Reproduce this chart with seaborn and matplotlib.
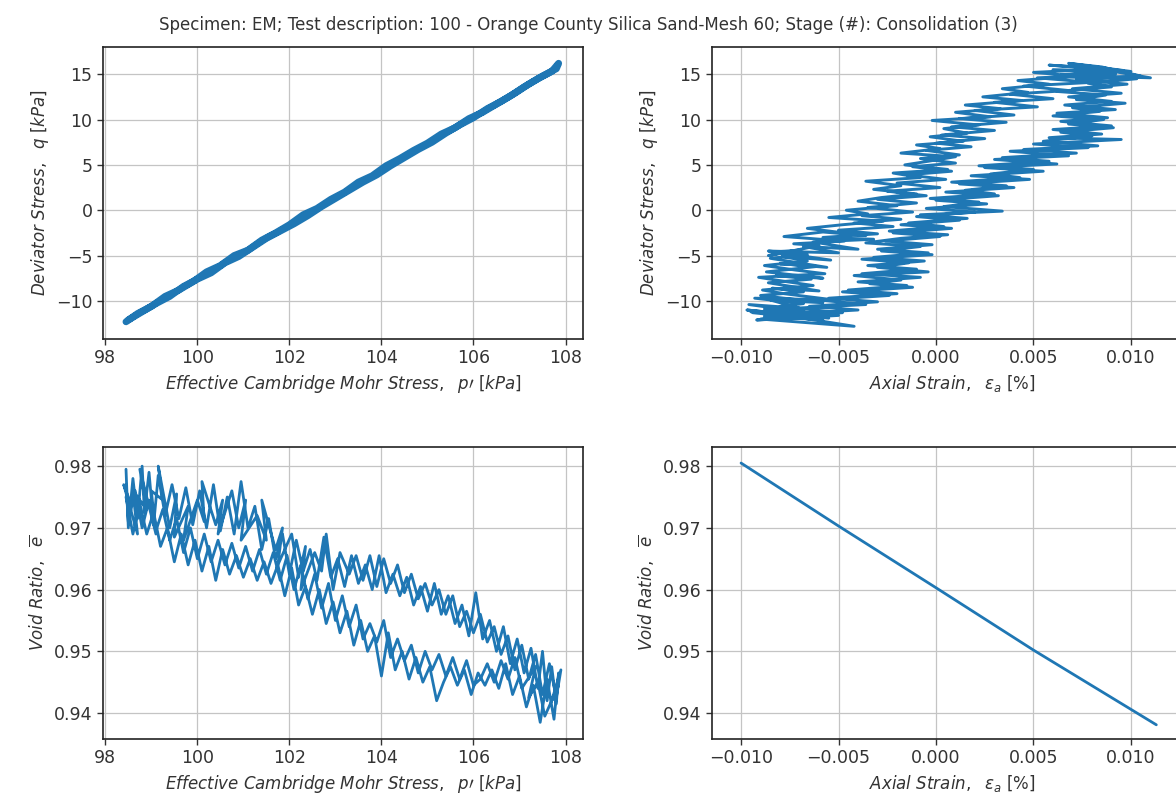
import matplotlib
matplotlib.use("Agg")
import matplotlib.pyplot as plt
import seaborn as sns

# ---- data ----
title = ("Specimen: EM; Test description: 100 - Orange County Silica Sand-Mesh 60; "
         "Stage (#): Consolidation (3)")

# top-left: effective Cambridge stress p' [kPa] vs deviator stress q [kPa]
p_tl = [98.45, 98.7, 99.0, 99.3, 99.6, 99.9, 100.2, 100.5, 100.8, 101.1, 101.4, 101.7,
        102.0, 102.3, 102.6, 102.9, 103.2, 103.5, 103.8, 104.1, 104.4, 104.7, 105.0,
        105.3, 105.6, 105.9, 106.2, 106.5, 106.8, 107.1, 107.4, 107.7, 107.85,
        107.8, 107.5, 107.2, 106.9, 106.6, 106.3, 106.0, 105.7, 105.4, 105.1, 104.8,
        104.5, 104.2, 103.9, 103.6, 103.3, 103.0, 102.7, 102.4, 102.1, 101.8, 101.5,
        101.2, 100.9, 100.6, 100.3, 100.0, 99.7, 99.4, 99.1, 98.8, 98.5]
q_tl = [-12.3, -11.4, -10.6, -9.5, -8.8, -7.9, -6.8, -6.1, -5.0, -4.4, -3.3, -2.5,
        -1.6, -0.5, 0.2, 1.2, 2.0, 3.1, 3.8, 4.9, 5.7, 6.6, 7.4,
        8.4, 9.1, 10.1, 10.8, 11.7, 12.6, 13.6, 14.5, 15.3, 16.2,
        15.6, 14.8, 13.9, 12.9, 12.0, 11.2, 10.2, 9.4, 8.5, 7.5, 6.7,
        5.8, 4.9, 3.9, 3.1, 2.2, 1.3, 0.4, -0.6, -1.5, -2.3, -3.1,
        -4.1, -5.1, -5.8, -6.9, -7.6, -8.4, -9.5, -10.3, -11.2, -12.1]

# top-right: (axial strain [%], deviator stress q [kPa]) in recording order
tr_points = [
    (-0.0095, -11.2), (-0.0060, -11.8), (-0.0092, -12.1), (-0.0050, -11.6), (-0.0088, -10.9),
    (-0.0062, -11.4), (-0.0096, -10.4), (-0.0070, -10.8), (-0.0085, -9.9), (-0.0058, -10.2),
    (-0.0090, -9.4), (-0.0068, -9.0), (-0.0084, -8.6), (-0.0060, -8.9), (-0.0086, -8.0),
    (-0.0064, -7.6), (-0.0082, -7.2), (-0.0058, -7.5), (-0.0087, -6.8), (-0.0061, -6.2),
    (-0.0080, -5.9), (-0.0056, -6.3), (-0.0085, -5.3), (-0.0066, -4.9), (-0.0086, -4.5),
    (-0.0050, -4.7), (-0.0068, -4.0), (-0.0040, -4.3), (-0.0063, -3.5), (-0.0032, -3.2),
    (-0.0058, -3.0), (-0.0030, -2.6), (-0.0050, -2.2), (-0.0022, -1.8), (-0.0042, -1.4),
    (-0.0018, -1.0), (-0.0038, -0.6), (-0.0012, -0.2), (-0.0035, 0.3), (-0.0010, 0.8),
    (-0.0030, 1.2), (-0.0005, 1.6), (-0.0025, 2.1), (0.0002, 2.5), (-0.0020, 3.0),
    (0.0005, 3.4), (-0.0015, 3.9), (0.0008, 4.3), (-0.0012, 4.8), (0.0010, 5.2),
    (-0.0008, 5.7), (0.0012, 6.1), (-0.0005, 6.6), (0.0018, 7.0), (0.0000, 7.4),
    (0.0025, 7.9), (0.0003, 8.3), (0.0030, 8.8), (0.0008, 9.2), (0.0036, 9.7),
    (0.0012, 10.1), (0.0040, 10.5), (0.0020, 11.0), (0.0052, 11.4), (0.0030, 11.9),
    (0.0060, 12.3), (0.0038, 12.8), (0.0068, 13.2), (0.0045, 13.7), (0.0080, 14.1),
    (0.0052, 14.6), (0.0092, 15.0), (0.0060, 15.5), (0.0100, 15.3), (0.0068, 16.2),
    (0.0085, 15.8),
    (0.0105, 14.8), (0.0072, 14.4), (0.0098, 13.9), (0.0070, 13.4), (0.0095, 12.9),
    (0.0068, 12.5), (0.0090, 12.0), (0.0066, 11.6), (0.0092, 11.1), (0.0062, 10.7),
    (0.0088, 10.2), (0.0064, 9.8), (0.0090, 9.3), (0.0060, 8.9), (0.0085, 8.4),
    (0.0058, 8.0), (0.0095, 7.8), (0.0050, 7.3), (0.0078, 6.9), (0.0038, 6.5),
    (0.0068, 6.0), (0.0030, 5.6), (0.0062, 5.1), (0.0025, 4.7), (0.0055, 4.3),
    (0.0018, 3.8), (0.0048, 3.4), (0.0012, 2.9), (0.0040, 2.5), (0.0005, 2.0),
    (0.0032, 1.6), (0.0000, 1.1), (0.0026, 0.7), (-0.0005, 0.2), (0.0020, -0.2),
    (-0.0010, -0.7), (0.0012, -1.1), (-0.0018, -1.6), (0.0008, -2.0), (-0.0022, -2.5),
    (0.0002, -2.9), (-0.0026, -3.4), (-0.0002, -3.8), (-0.0030, -4.3), (-0.0004, -4.7),
    (-0.0032, -5.2), (-0.0006, -5.6), (-0.0035, -6.1), (-0.0010, -6.5), (-0.0038, -7.0),
    (-0.0008, -7.4), (-0.0040, -7.9), (-0.0015, -8.3), (-0.0045, -8.8), (-0.0020, -9.2),
    (-0.0055, -9.7), (-0.0030, -10.1), (-0.0065, -10.6), (-0.0040, -11.0), (-0.0080, -11.5),
    (-0.0042, -12.8), (-0.0090, -12.0),
    (-0.0075, -11.5), (-0.0097, -11.0), (-0.0055, -11.9), (-0.0080, -10.6), (-0.0068, -10.3),
    (-0.0093, -9.7), (-0.0052, -9.9), (-0.0078, -9.2), (-0.0089, -8.8), (-0.0063, -8.3),
    (-0.0076, -7.9), (-0.0091, -7.4), (-0.0057, -7.0), (-0.0072, -6.6), (-0.0088, -6.1),
    (-0.0066, -5.6), (-0.0079, -5.1), (-0.0054, -5.5), (-0.0083, -4.6), (-0.0070, -4.4),
    (-0.0086, -5.0), (-0.0060, -3.9), (-0.0073, -3.7), (-0.0047, -3.4), (-0.0078, -2.9),
    (-0.0058, -2.4), (-0.0036, -2.8), (-0.0066, -2.0), (-0.0048, -1.6), (-0.0027, -1.2),
    (-0.0055, -0.8), (-0.0035, -0.4), (-0.0046, 0.0), (-0.0020, 0.5), (-0.0040, 1.0),
    (-0.0028, 1.4), (-0.0010, 1.8), (-0.0032, 2.3), (-0.0018, 2.7), (-0.0036, 3.2),
    (-0.0008, 3.6), (-0.0022, 4.1), (0.0006, 4.5), (-0.0016, 5.0), (-0.0004, 5.4),
    (0.0010, 5.9), (-0.0018, 6.3), (0.0002, 6.8), (-0.0010, 7.2), (0.0014, 7.6),
    (-0.0003, 8.1), (0.0016, 8.5), (0.0004, 9.0), (0.0022, 9.4), (-0.0002, 9.9),
    (0.0028, 10.3), (0.0010, 10.8), (0.0033, 11.2), (0.0015, 11.6), (0.0044, 12.1),
    (0.0024, 12.5), (0.0047, 13.0), (0.0034, 13.4), (0.0058, 13.9), (0.0042, 14.3),
    (0.0072, 14.8), (0.0050, 15.2), (0.0088, 15.6), (0.0058, 16.0), (0.0096, 15.4),
    (0.0064, 14.9), (0.0110, 14.6), (0.0075, 15.9),
    (0.0092, 15.1), (0.0065, 14.7), (0.0103, 14.5), (0.0078, 14.0), (0.0090, 13.6),
    (0.0062, 13.1), (0.0087, 12.7), (0.0072, 12.2), (0.0097, 11.8), (0.0070, 11.3),
    (0.0084, 10.9), (0.0060, 10.4), (0.0086, 10.0), (0.0068, 9.5), (0.0091, 9.1),
    (0.0064, 8.6), (0.0080, 8.2), (0.0055, 7.6), (0.0083, 7.1), (0.0045, 6.7),
    (0.0072, 6.3), (0.0034, 5.8), (0.0058, 5.4), (0.0022, 4.9), (0.0050, 4.5),
    (0.0028, 4.0), (0.0043, 3.6), (0.0008, 3.1), (0.0036, 2.7), (0.0015, 2.2),
    (0.0030, 1.8), (-0.0003, 1.3), (0.0022, 0.9), (0.0004, 0.4), (0.0034, -0.1),
    (-0.0008, -0.5), (0.0016, -0.9), (-0.0014, -1.4), (0.0004, -1.8), (-0.0024, -2.3),
    (0.0006, -2.7), (-0.0018, -3.1), (-0.0036, -3.6), (-0.0008, -4.0), (-0.0028, -4.5),
    (-0.0002, -4.9), (-0.0038, -5.4), (-0.0014, -5.8), (-0.0030, -6.3), (-0.0004, -6.8),
    (-0.0042, -7.2), (-0.0018, -7.7), (-0.0034, -8.1), (-0.0012, -8.5), (-0.0048, -9.0),
    (-0.0024, -9.4), (-0.0060, -9.9), (-0.0036, -10.4), (-0.0072, -10.8), (-0.0048, -11.3),
    (-0.0088, -11.7), (-0.0058, -12.1), (-0.0094, -11.3),
]

# bottom-left: (effective Cambridge stress p' [kPa], void ratio) in recording order
bl_points = [
    (98.45, 0.9795), (98.5, 0.9700), (98.6, 0.9780), (98.7, 0.9715), (98.8, 0.9800),
    (98.85, 0.9725), (98.95, 0.9790), (99.05, 0.9705), (99.15, 0.9785), (99.3, 0.9720),
    (99.45, 0.9770), (99.6, 0.9715), (99.75, 0.9765), (99.9, 0.9705), (100.05, 0.9760),
    (100.2, 0.9700), (100.35, 0.9770), (100.5, 0.9695), (100.65, 0.9750), (100.8, 0.9690),
    (100.95, 0.9775), (101.1, 0.9700), (101.25, 0.9735), (101.4, 0.9665), (101.55, 0.9715),
    (101.7, 0.9650), (101.85, 0.9690), (102.0, 0.9625), (102.15, 0.9680), (102.3, 0.9630),
    (102.45, 0.9665), (102.6, 0.9615), (102.75, 0.9685), (102.9, 0.9620), (103.05, 0.9650),
    (103.2, 0.9605), (103.35, 0.9655), (103.5, 0.9610), (103.65, 0.9640), (103.8, 0.9600),
    (103.95, 0.9655), (104.1, 0.9595), (104.25, 0.9625), (104.4, 0.9590), (104.55, 0.9620),
    (104.7, 0.9575), (104.85, 0.9605), (105.0, 0.9565), (105.15, 0.9610), (105.3, 0.9560),
    (105.45, 0.9590), (105.6, 0.9545), (105.75, 0.9575), (105.9, 0.9525), (106.05, 0.9595),
    (106.2, 0.9520), (106.35, 0.9550), (106.5, 0.9500), (106.65, 0.9540), (106.8, 0.9480),
    (106.95, 0.9520), (107.1, 0.9465), (107.25, 0.9505), (107.4, 0.9440), (107.5, 0.9500),
    (107.6, 0.9420), (107.7, 0.9475), (107.8, 0.9415), (107.85, 0.9465),
    (107.75, 0.9390), (107.6, 0.9455), (107.45, 0.9385), (107.3, 0.9445), (107.15, 0.9410),
    (107.0, 0.9460), (106.85, 0.9430), (106.7, 0.9480), (106.55, 0.9440), (106.4, 0.9470),
    (106.25, 0.9445), (106.1, 0.9465), (105.95, 0.9430), (105.8, 0.9470), (105.65, 0.9445),
    (105.5, 0.9475), (105.35, 0.9450), (105.2, 0.9420), (105.05, 0.9475), (104.9, 0.9450),
    (104.75, 0.9490), (104.6, 0.9455), (104.45, 0.9500), (104.3, 0.9470), (104.15, 0.9530),
    (104.0, 0.9460), (103.85, 0.9525), (103.7, 0.9500), (103.55, 0.9550), (103.4, 0.9510),
    (103.25, 0.9565), (103.1, 0.9530), (102.95, 0.9580), (102.8, 0.9545), (102.65, 0.9600),
    (102.5, 0.9560), (102.35, 0.9605), (102.2, 0.9575), (102.05, 0.9635), (101.9, 0.9590),
    (101.75, 0.9640), (101.6, 0.9610), (101.45, 0.9645), (101.3, 0.9615), (101.15, 0.9650),
    (101.0, 0.9620), (100.85, 0.9655), (100.7, 0.9625), (100.55, 0.9665), (100.4, 0.9615),
    (100.25, 0.9670), (100.1, 0.9630), (99.95, 0.9680), (99.8, 0.9640), (99.65, 0.9690),
    (99.5, 0.9645), (99.35, 0.9700), (99.2, 0.9670), (99.05, 0.9725), (98.9, 0.9690),
    (98.75, 0.9740), (98.6, 0.9690), (98.45, 0.9750),
    (98.55, 0.9740), (98.4, 0.9770), (98.7, 0.9690), (98.6, 0.9760), (98.9, 0.9730),
    (98.75, 0.9795), (99.1, 0.9690), (99.0, 0.9760), (99.25, 0.9745), (99.15, 0.9800),
    (99.4, 0.9700), (99.55, 0.9755), (99.5, 0.9685), (99.8, 0.9735), (99.7, 0.9680),
    (100.0, 0.9745), (100.15, 0.9710), (100.1, 0.9775), (100.4, 0.9705), (100.55, 0.9745),
    (100.45, 0.9690), (100.75, 0.9760), (100.9, 0.9700), (101.05, 0.9745), (100.95, 0.9680),
    (101.3, 0.9720), (101.5, 0.9680), (101.4, 0.9745), (101.7, 0.9665), (101.85, 0.9700),
    (101.75, 0.9640), (102.05, 0.9690), (102.2, 0.9620), (102.35, 0.9670), (102.25, 0.9600),
    (102.55, 0.9660), (102.7, 0.9630), (102.8, 0.9690), (102.95, 0.9600), (103.1, 0.9660),
    (103.3, 0.9625), (103.45, 0.9655), (103.6, 0.9615), (103.75, 0.9655), (103.9, 0.9605),
    (104.05, 0.9650), (104.2, 0.9610), (104.35, 0.9640), (104.5, 0.9595), (104.65, 0.9625),
    (104.8, 0.9585), (104.95, 0.9610), (105.1, 0.9575), (105.25, 0.9600), (105.4, 0.9560),
    (105.55, 0.9590), (105.7, 0.9540), (105.85, 0.9565), (106.0, 0.9530), (106.15, 0.9560),
    (106.3, 0.9515), (106.45, 0.9540), (106.6, 0.9495), (106.75, 0.9525), (106.9, 0.9470),
    (107.05, 0.9510), (107.2, 0.9455), (107.35, 0.9495), (107.5, 0.9430), (107.65, 0.9480),
    (107.8, 0.9425), (107.9, 0.9470),
    (107.7, 0.9420), (107.85, 0.9445), (107.55, 0.9395), (107.4, 0.9450), (107.2, 0.9425),
    (107.35, 0.9475), (107.05, 0.9440), (106.9, 0.9490), (106.75, 0.9455), (106.6, 0.9485),
    (106.45, 0.9450), (106.3, 0.9480), (106.15, 0.9455), (106.0, 0.9445), (105.85, 0.9485),
    (105.7, 0.9455), (105.55, 0.9490), (105.4, 0.9460), (105.25, 0.9495), (105.1, 0.9470),
    (104.95, 0.9500), (104.8, 0.9465), (104.65, 0.9510), (104.5, 0.9485), (104.35, 0.9520),
    (104.2, 0.9490), (104.05, 0.9550), (103.9, 0.9515), (103.75, 0.9545), (103.6, 0.9520),
    (103.45, 0.9575), (103.3, 0.9540), (103.15, 0.9590), (103.0, 0.9550), (102.85, 0.9610),
    (102.7, 0.9570), (102.55, 0.9625), (102.4, 0.9585), (102.25, 0.9640), (102.1, 0.9600),
    (101.95, 0.9655), (101.8, 0.9615), (101.65, 0.9660), (101.5, 0.9625), (101.35, 0.9665),
    (101.2, 0.9630), (101.05, 0.9670), (100.9, 0.9635), (100.75, 0.9675), (100.6, 0.9640),
    (100.45, 0.9680), (100.3, 0.9645), (100.15, 0.9690), (100.0, 0.9650), (99.85, 0.9700),
    (99.7, 0.9660), (99.55, 0.9715), (99.4, 0.9680), (99.25, 0.9730), (99.1, 0.9695),
    (98.95, 0.9745), (98.8, 0.9700), (98.65, 0.9760), (98.5, 0.9710), (98.45, 0.9770),
]

# bottom-right: axial strain [%] vs void ratio
ea_br = [-0.0100, -0.0050, 0.0000, 0.0050, 0.0113]
e_br = [0.9805, 0.9703, 0.9603, 0.9502, 0.9381]

p_ticks = [98, 100, 102, 104, 106, 108]
q_ticks = [-10, -5, 0, 5, 10, 15]
ea_ticks = [-0.010, -0.005, 0.000, 0.005, 0.010]
e_ticks = [0.94, 0.95, 0.96, 0.97, 0.98]

ea_tr = [pt[0] for pt in tr_points]
q_tr = [pt[1] for pt in tr_points]
p_bl = [pt[0] for pt in bl_points]
e_bl = [pt[1] for pt in bl_points]

# ---- style ----
sns.set_style("ticks", {"axes.grid": True, "grid.color": "#c4c4c4",
                        "axes.edgecolor": "#222222"})
plt.rcParams["font.family"] = ["DejaVu Sans"]
plt.rcParams["mathtext.fontset"] = "dejavusans"
plt.rcParams["text.color"] = "#333333"
plt.rcParams["axes.labelcolor"] = "#333333"
plt.rcParams["xtick.color"] = "#333333"
plt.rcParams["ytick.color"] = "#333333"

BLUE = "#1f77b4"
W, H = 1176, 801
fig = plt.figure(figsize=(W / 100, H / 100), dpi=100)


def add_ax(x0, y0, x1, y1):
    return fig.add_axes([x0 / W, 1 - y1 / H, (x1 - x0) / W, (y1 - y0) / H])


# right-hand panels run past the picture edge, as in the cropped original
ax_tl = add_ax(103, 47, 583, 339)
ax_tr = add_ax(712, 47, 1192, 339)
ax_bl = add_ax(103, 447, 583, 739)
ax_br = add_ax(712, 447, 1192, 739)

sns.lineplot(x=p_tl, y=q_tl, sort=False, estimator=None, ax=ax_tl, color=BLUE, lw=5)
sns.lineplot(x=ea_tr, y=q_tr, sort=False, estimator=None, ax=ax_tr, color=BLUE, lw=2.1)
sns.lineplot(x=p_bl, y=e_bl, sort=False, estimator=None, ax=ax_bl, color=BLUE, lw=2.0)
sns.lineplot(x=ea_br, y=e_br, sort=False, estimator=None, ax=ax_br, color=BLUE, lw=2)

lab_p = r"$Effective\ Cambridge\ Mohr\ Stress,\ \ p\prime\ [kPa]$"
lab_q = r"$Deviator\ Stress,\ \ q\ [kPa]$"
lab_ea = r"$Axial\ Strain,\ \ \varepsilon_a\ [\%]$"
lab_e = r"$Void\ Ratio,\ \ \overline{e}$"
FS = 12

for ax in (ax_tl, ax_bl):
    ax.set_xlim(97.95, 108.38)
    ax.set_xticks(p_ticks)
    ax.set_xlabel(lab_p, fontsize=FS)
for ax in (ax_tr, ax_br):
    ax.set_xlim(-0.01149, 0.01313)
    ax.set_xticks(ea_ticks)
    ax.set_xlabel(lab_ea, fontsize=FS)
for ax in (ax_tl, ax_tr):
    ax.set_ylim(-14.2, 18.0)
    ax.set_yticks(q_ticks)
    ax.set_ylabel(lab_q, fontsize=FS)
for ax in (ax_bl, ax_br):
    ax.set_ylim(0.9358, 0.9831)
    ax.set_yticks(e_ticks)
    ax.set_ylabel(lab_e, fontsize=FS)

for ax in (ax_tl, ax_tr, ax_bl, ax_br):
    ax.tick_params(labelsize=12.5, length=4, width=1)
    ax.grid(True, color="#c4c4c4", lw=0.9)
    for s in ax.spines.values():
        s.set_linewidth(1.2)

fig.suptitle(title, y=1 - 16 / H, fontsize=12, color="#333333")

fig.savefig("out.png", dpi=100)
